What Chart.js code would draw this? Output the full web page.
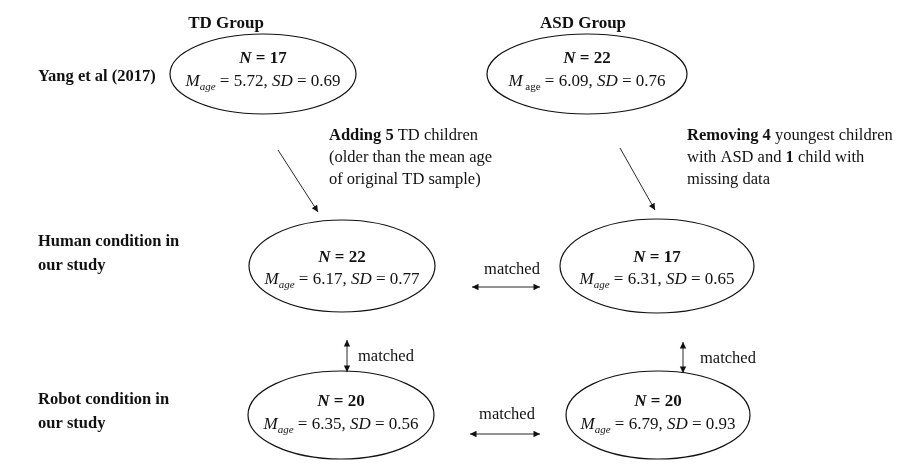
<!DOCTYPE html>
<html><head><meta charset="utf-8">
<script src="https://cdn.jsdelivr.net/npm/chart.js@4/dist/chart.umd.min.js"></script>
<style>html,body{margin:0;padding:0;background:#fff}#wrap{width:922px;height:475px;position:relative}</style>
</head><body><div id="wrap"><canvas id="c"></canvas></div>
<script>
// ---- data ----
const groups = ['TD Group', 'ASD Group'];
const conditions = [['Yang et al (2017)'], ['Human condition in', 'our study'], ['Robot condition in', 'our study']];
const nValues = [[17, 22], [22, 17], [20, 20]];
const meanAges = [[5.72, 6.09], [6.17, 6.31], [6.35, 6.79]];
const sdValues = [[0.69, 0.76], [0.77, 0.65], [0.56, 0.93]];
const matchLabel = 'matched';
const tdNote = [
  [{t: 'Adding 5', b: 1}, {t: ' TD children'}],
  [{t: '(older than the mean age'}],
  [{t: 'of original TD sample)'}]
];
const asdNote = [
  [{t: 'Removing 4', b: 1}, {t: ' youngest children'}],
  [{t: 'with ASD and '}, {t: '1', b: 1}, {t: ' child with'}],
  [{t: 'missing data'}]
];

// ---- layout (chart units = pixels, y downwards) ----
const L = {
  groupTitle: [[226, 22], [583, 22]],
  nodes: [[[263, 74], [587, 74]], [[342, 266], [657, 266]], [[341, 415], [658, 415]]],
  radii: [[[93, 40], [100, 40]], [[93, 46], [97, 47]], [[93, 44], [92, 44]]],
  textBase: [[-11, 12], [-4, 18], [-9, 14]],
  condLabel: [[38, 75], [38, 240], [38, 398]],
  notePos: [[329, 135], [687, 135]],
  noteLine: 22,
  arrows: [
    {a: [278, 150], b: [318, 212], both: false},
    {a: [620, 148], b: [655, 210], both: false},
    {a: [472, 287], b: [540, 287], both: true},
    {a: [347, 340], b: [347, 372], both: true},
    {a: [683, 342], b: [683, 373], both: true},
    {a: [470, 434], b: [540, 434], both: true}
  ],
  matchText: [[512, 269, 'center'], [358, 356, 'left'], [700, 358, 'left'], [507, 414, 'center']]
};

const FF = '"Liberation Serif", "Times New Roman", serif';
const INK = '#111';

function font(seg, size) {
  let s = '';
  if (seg.i) s += 'italic ';
  if (seg.b) s += 'bold ';
  return s + (seg.size || size) + 'px ' + FF;
}
function drawRich(ctx, segs, x, y, align, size) {
  let w = 0;
  segs.forEach(s => { ctx.font = font(s, size); s.w = ctx.measureText(s.t).width; w += s.w; });
  let cx = align === 'center' ? x - w / 2 : x;
  segs.forEach(s => {
    ctx.font = font(s, size);
    ctx.fillText(s.t, cx, y + (s.dy || 0));
    cx += s.w;
  });
}
function arrowHead(ctx, x1, y1, x2, y2) {
  const ang = Math.atan2(y2 - y1, x2 - x1), len = 6.5, hw = 3.2;
  ctx.beginPath();
  ctx.moveTo(x2, y2);
  ctx.lineTo(x2 - len * Math.cos(ang) + hw * Math.sin(ang), y2 - len * Math.sin(ang) - hw * Math.cos(ang));
  ctx.lineTo(x2 - len * Math.cos(ang) - hw * Math.sin(ang), y2 - len * Math.sin(ang) + hw * Math.cos(ang));
  ctx.closePath();
  ctx.fill();
}

const diagram = {
  id: 'diagram',
  afterDatasetsDraw(chart) {
    const ctx = chart.ctx, X = chart.scales.x, Y = chart.scales.y;
    const px = v => X.getPixelForValue(v), py = v => Y.getPixelForValue(v);
    ctx.save();
    ctx.fillStyle = INK; ctx.strokeStyle = INK;
    ctx.textBaseline = 'alphabetic';
    groups.forEach((g, i) => {
      drawRich(ctx, [{t: g, b: 1}], px(L.groupTitle[i][0]), py(L.groupTitle[i][1]) + 6, 'center', 17);
    });
    conditions.forEach((c, r) => {
      c.forEach((line, k) => {
        drawRich(ctx, [{t: line, b: 1}], px(L.condLabel[r][0]), py(L.condLabel[r][1] + k * 24) + 6, 'left', 16.5);
      });
    });
    nValues.forEach((row, r) => {
      row.forEach((n, g) => {
        const [cx, cy] = L.nodes[r][g], [rx, ry] = L.radii[r][g];
        const x0 = px(cx), y0 = py(cy);
        const rpx = Math.abs(px(cx + rx) - x0), rpy = Math.abs(py(cy + ry) - y0);
        ctx.lineWidth = 1.2;
        ctx.beginPath(); ctx.ellipse(x0, y0, rpx, rpy, 0, 0, Math.PI * 2); ctx.stroke();
        const tb = L.textBase[r];
        drawRich(ctx, [{t: 'N', b: 1, i: 1}, {t: ' = ' + n, b: 1}], x0, y0 + tb[0], 'center', 17);
        const upright = (r === 0 && g === 1);
        drawRich(ctx, [
          {t: 'M', i: 1},
          upright ? {t: ' age', size: 11, dy: 4} : {t: 'age', i: 1, size: 11, dy: 4},
          {t: ' = ' + meanAges[r][g].toFixed(2) + ', '},
          {t: 'SD', i: 1},
          {t: ' = ' + sdValues[r][g].toFixed(2)}
        ], x0, y0 + tb[1], 'center', 17);
      });
    });
    [tdNote, asdNote].forEach((note, i) => {
      note.forEach((line, k) => {
        drawRich(ctx, line.map(s => Object.assign({}, s)), px(L.notePos[i][0]), py(L.notePos[i][1] + k * L.noteLine) + 5, 'left', 16.5);
      });
    });
    ctx.lineWidth = 0.9;
    L.arrows.forEach(ar => {
      const x1 = px(ar.a[0]), y1 = py(ar.a[1]), x2 = px(ar.b[0]), y2 = py(ar.b[1]);
      ctx.beginPath(); ctx.moveTo(x1, y1); ctx.lineTo(x2, y2); ctx.stroke();
      arrowHead(ctx, x1, y1, x2, y2);
      if (ar.both) arrowHead(ctx, x2, y2, x1, y1);
    });
    L.matchText.forEach(m => {
      drawRich(ctx, [{t: matchLabel}], px(m[0]), py(m[1]) + 5, m[2], 16.5);
    });
    ctx.restore();
  }
};

new Chart(document.getElementById('c'), {
  type: 'scatter',
  data: {
    datasets: [{
      data: L.nodes.flat().map(p => ({x: p[0], y: p[1]})),
      pointRadius: 0, pointHoverRadius: 0
    }]
  },
  options: {
    responsive: true, maintainAspectRatio: false, animation: false,
    layout: {padding: 0},
    events: [],
    plugins: {legend: {display: false}, tooltip: {enabled: false}, title: {display: false}},
    scales: {
      x: {type: 'linear', min: 0, max: 922, display: false},
      y: {type: 'linear', min: 0, max: 475, reverse: true, display: false}
    }
  },
  plugins: [diagram]
});
</script></body></html>
